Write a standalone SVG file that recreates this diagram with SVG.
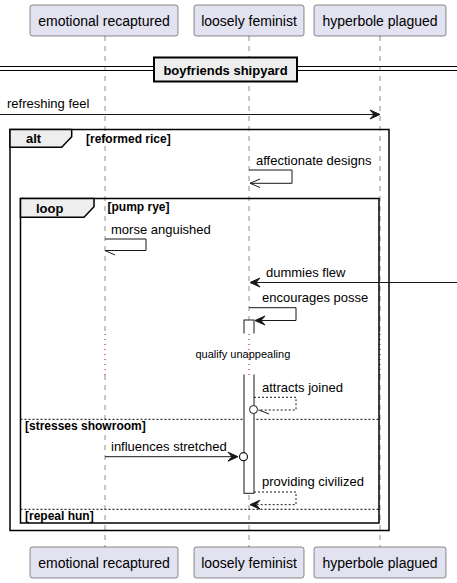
<svg xmlns="http://www.w3.org/2000/svg" width="457" height="583" viewBox="0 0 457 583">
<defs>
<style>
.part rect{fill:#E2E2F0;stroke:#181818;stroke-width:0.5}
.part text{font-family:"Liberation Sans",Arial,sans-serif;font-size:14px;fill:#000;text-anchor:middle}
.life{stroke:#181818;stroke-width:0.5;stroke-dasharray:5,5;fill:none}
.delay{stroke:#A80036;stroke-width:1;stroke-dasharray:1,4;fill:none}
.msg{stroke:#181818;stroke-width:1;fill:none}
.dash{stroke:#181818;stroke-width:1;fill:none;stroke-dasharray:2,2}
.head{fill:#181818;stroke:#181818;stroke-width:1}
.lbl{font-family:"Liberation Sans",Arial,sans-serif;font-size:13px;fill:#000}
.frame{fill:none;stroke:#000;stroke-width:1.5}
.tab{fill:#EEEEEE;stroke:#000;stroke-width:1.5}
.tabtxt{font-family:"Liberation Sans",Arial,sans-serif;font-size:13px;font-weight:bold;fill:#000}
.guard{font-family:"Liberation Sans",Arial,sans-serif;font-size:12px;font-weight:bold;fill:#000}
.else{stroke:#000;stroke-width:1;stroke-dasharray:2,2;fill:none}
</style>
</defs>
<g id="lifelines">
<line class="life" x1="105" y1="36" x2="105" y2="333"/>
<line class="life" x1="105" y1="375" x2="105" y2="547"/>
<line class="life" x1="249" y1="36" x2="249" y2="333"/>
<line class="life" x1="249" y1="375" x2="249" y2="547"/>
<line class="life" x1="380" y1="36" x2="380" y2="333"/>
<line class="life" x1="380" y1="375" x2="380" y2="547"/>
<line class="delay" x1="105" y1="334" x2="105" y2="375"/>
<line class="delay" x1="249" y1="334" x2="249" y2="375"/>
<line class="delay" x1="380" y1="334" x2="380" y2="375"/>
</g>
<g id="p1" class="part"><rect x="30" y="5" width="148" height="31" rx="2.5"/><text x="104" y="25.5">emotional recaptured</text></g>
<g id="p2" class="part"><rect x="194" y="5" width="110" height="31" rx="2.5"/><text x="249" y="25.5">loosely feminist</text></g>
<g id="p3" class="part"><rect x="314" y="5" width="132" height="31" rx="2.5"/><text x="380" y="25.5">hyperbole plagued</text></g>
<g id="p1b" class="part"><rect x="30" y="547" width="148" height="31" rx="2.5"/><text x="104" y="567.5">emotional recaptured</text></g>
<g id="p2b" class="part"><rect x="194" y="547" width="110" height="31" rx="2.5"/><text x="249" y="567.5">loosely feminist</text></g>
<g id="p3b" class="part"><rect x="314" y="547" width="132" height="31" rx="2.5"/><text x="380" y="567.5">hyperbole plagued</text></g>
<g id="divider">
<line x1="0" y1="66.5" x2="457" y2="66.5" stroke="#000" stroke-width="1"/>
<line x1="0" y1="70.5" x2="457" y2="70.5" stroke="#000" stroke-width="1"/>
<rect x="154" y="57.5" width="143" height="24" fill="#EEEEEE" stroke="#000" stroke-width="2"/>
<text x="225.5" y="75" class="tabtxt" text-anchor="middle">boyfriends shipyard</text>
</g>
<g id="alt">
<rect class="frame" x="10" y="129.5" width="379" height="401"/>
<path class="tab" d="M10,129.5 H71.7 V136.7 L61.7,147.3 H10 Z"/>
<text class="tabtxt" x="26" y="143">alt</text>
<text class="guard" x="86" y="142.5">[reformed rice]</text>
</g>
<g id="loop">
<rect class="frame" x="20.5" y="198.5" width="358.5" height="324.5"/>
<path class="tab" d="M20.5,198.5 H94 V206.7 L84,217.3 H20.5 Z"/>
<text class="tabtxt" x="36" y="212.5">loop</text>
<text class="guard" x="107.5" y="211">[pump rye]</text>
<line class="else" x1="20.5" y1="419.3" x2="379" y2="419.3"/>
<text class="guard" x="25" y="430">[stresses showroom]</text>
<line class="else" x1="20.5" y1="509.3" x2="379" y2="509.3"/>
<text class="guard" x="25" y="519.5">[repeal hun]</text>
</g>
<g id="activation">
<rect x="244" y="320" width="10" height="173.3" fill="#FFFFFF" stroke="#181818" stroke-width="1"/>
<rect x="243" y="333.5" width="12" height="41" fill="#FFFFFF" stroke="none"/>
<line class="delay" x1="249" y1="334" x2="249" y2="375"/>
</g>
<g id="delay">
<text x="195.5" y="358" font-family="Liberation Sans, Arial, sans-serif" font-size="11" fill="#000">qualify unappealing</text>
</g>
<g id="connectors">
<line class="msg" x1="0" y1="114.5" x2="378" y2="114.5"/>
<polygon class="head" points="370,110 380,114.5 370,119 374,114.5"/>
<text class="lbl" x="7" y="108">refreshing feel</text>

<polyline class="msg" points="249,170 292,170 292,183.3 250,183.3"/>
<polyline class="msg" points="260,179 250,183.3 260,187.5"/>
<text class="lbl" x="256" y="164.5">affectionate designs</text>

<polyline class="msg" points="105,239 146,239 146,250.5 105,250.5"/>
<line class="msg" x1="105" y1="250.5" x2="115" y2="255"/>
<text class="lbl" x="111" y="233.5">morse anguished</text>

<line class="msg" x1="457" y1="282.5" x2="252" y2="282.5"/>
<polygon class="head" points="260,278 250,282.5 260,287 256,282.5"/>
<text class="lbl" x="266" y="276.5">dummies flew</text>

<polyline class="msg" points="249,307.7 296,307.7 296,320.5 257,320.5"/>
<polygon class="head" points="265,316 255,320.5 265,325 261,320.5"/>
<text class="lbl" x="262" y="302">encourages posse</text>

<polyline class="dash" points="254,397.3 296,397.3 296,410 258,410"/>
<circle cx="253.5" cy="409.5" r="4" fill="#FFFFFF" stroke="#181818" stroke-width="1"/>
<line class="msg" x1="259" y1="410" x2="269" y2="414"/>
<text class="lbl" x="262" y="391.5">attracts joined</text>

<line class="msg" x1="105" y1="456.7" x2="236" y2="456.7"/>
<polygon class="head" points="228,452.2 238,456.7 228,461.2 232,456.7"/>
<circle cx="243.5" cy="456.7" r="4" fill="#FFFFFF" stroke="#181818" stroke-width="1.2"/>
<text class="lbl" x="111" y="451">influences stretched</text>

<polyline class="dash" points="254,492 296,492 296,504.7 252,504.7"/>
<polygon class="head" points="260,500.2 250,504.7 260,509.2 256,504.7"/>
<text class="lbl" x="262" y="486">providing civilized</text>
</g>
</svg>
